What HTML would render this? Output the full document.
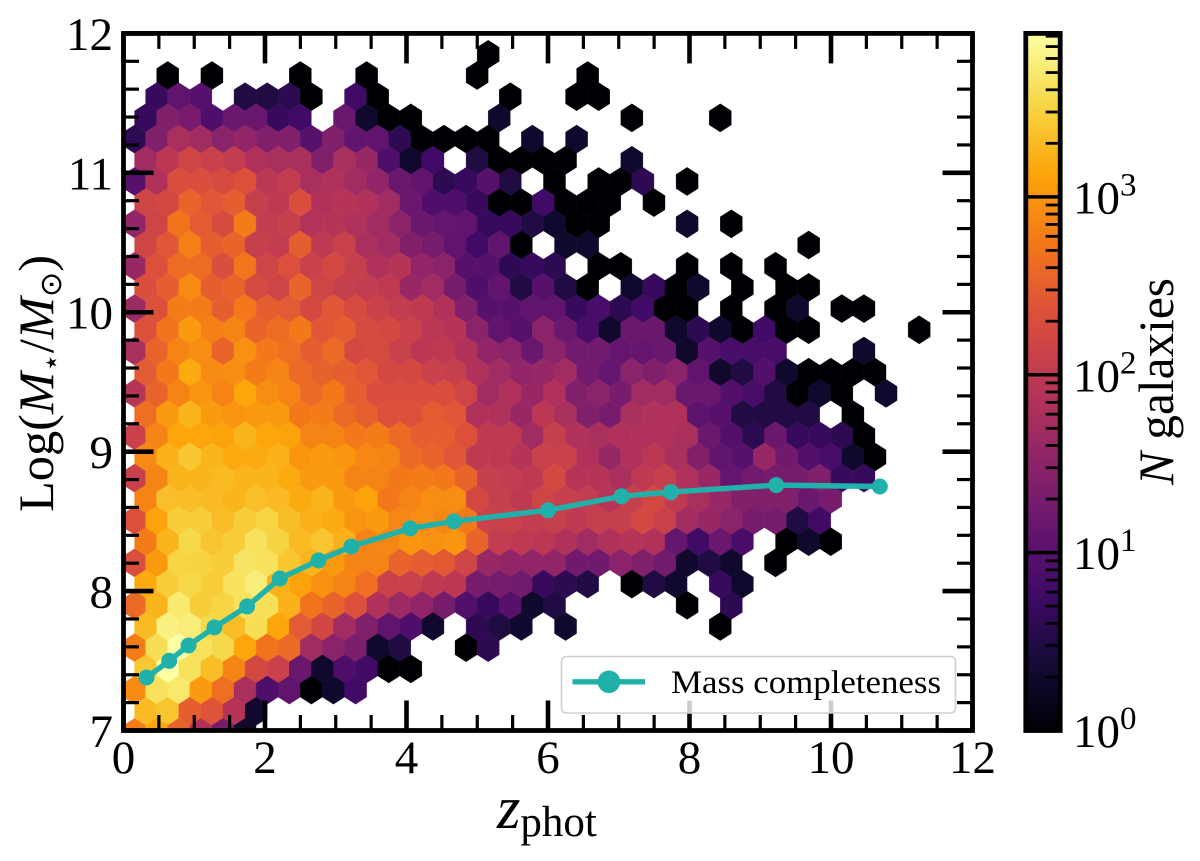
<!DOCTYPE html>
<html lang="en">
<head>
<meta charset="utf-8">
<title>Stellar mass vs photometric redshift hexbin</title>
<style>
html,body{margin:0;padding:0;background:#fff;width:1200px;height:861px;overflow:hidden}
svg{display:block;font-family:"Liberation Serif","DejaVu Serif",serif}
</style>
</head>
<body>
<svg id="chart" xmlns="http://www.w3.org/2000/svg" width="1200" height="861" viewBox="0 0 1200 861">
  <defs>
    <clipPath id="axes-clip"><rect x="123.5" y="33.4" width="849" height="697.1"></rect></clipPath>
    <linearGradient id="colorbar-gradient" x1="0" y1="1" x2="0" y2="0"></linearGradient>
  </defs>
  <rect x="123.5" y="33.4" width="849" height="697.1" fill="#fff"></rect>
  <g id="hexes" clip-path="url(#axes-clip)"></g>
  <g id="completeness"></g>
  <g id="ticks"></g>
  <rect x="123.5" y="33.4" width="849" height="697.1" fill="none" stroke="#000" stroke-width="4.8"></rect>
  <g id="tick-labels" font-size="47" fill="#000"></g>

  <text x="497" y="828" fill="#000"><tspan font-style="italic" font-size="60">z</tspan><tspan font-size="43" dy="8">phot</tspan></text>
  <text transform="translate(53,512) rotate(-90)" x="0" y="0" font-size="50" fill="#000" textLength="257" lengthAdjust="spacingAndGlyphs">Log(<tspan font-style="italic">M</tspan><tspan font-size="30" dy="8" font-family="'DejaVu Sans',sans-serif">⋆</tspan><tspan dy="-8">/</tspan><tspan font-style="italic">M</tspan><tspan font-size="30" dy="8" font-family="'DejaVu Sans',sans-serif">⊙</tspan><tspan dy="-8">)</tspan></text>

  <g>
    <rect x="561.5" y="656.5" width="394" height="56.5" rx="5" ry="5" fill="#fff" fill-opacity="0.8" stroke="#d0d0d0" stroke-width="1.6"></rect>
    <line x1="572.5" y1="681.8" x2="645" y2="681.8" stroke="#20b2aa" stroke-width="5.4"></line>
    <circle cx="609" cy="681.8" r="11.3" fill="#20b2aa"></circle>
    <text x="671" y="693" font-size="33" fill="#000" textLength="270" lengthAdjust="spacingAndGlyphs">Mass completeness</text>
  </g>

  <g>
    <rect x="1025.8" y="33.4" width="34.4" height="697.1" fill="url(#colorbar-gradient)"></rect>
    <g id="cbar-ticks"></g>
    <rect x="1025.8" y="33.4" width="34.4" height="697.1" fill="none" stroke="#000" stroke-width="4.8"></rect>
    <g id="cbar-labels" font-size="47" fill="#000"></g>
    <text transform="translate(1173,485) rotate(-90)" x="0" y="0" font-size="50" fill="#000" textLength="207" lengthAdjust="spacingAndGlyphs"><tspan font-style="italic">N</tspan> galaxies</text>
  </g>
</svg>

<script>
/* Mass-completeness series */
const completenessZ = [0.325, 0.646, 0.919, 1.286, 1.748, 2.21, 2.756, 3.22, 4.05, 4.67, 6.0, 7.04, 7.735, 9.225, 10.69];
const completenessMass = [7.38, 7.50, 7.61, 7.74, 7.89, 8.09, 8.22, 8.32, 8.45, 8.50, 8.58, 8.68, 8.71, 8.76, 8.75];

/* Axis ticks */
const xMajorTicks = [0, 2, 4, 6, 8, 10, 12];
const xTickLabels = ["0", "2", "4", "6", "8", "10", "12"];
const yMajorTicks = [7, 8, 9, 10, 11, 12];
const yTickLabels = ["7", "8", "9", "10", "11", "12"];
const xMinorStep = 0.5;
const yMinorStep = 0.2;
const colorbarDecades = [0, 1, 2, 3];
const colorbarMinorMultipliers = [2, 3, 4, 5, 6, 7, 8, 9];

/* Axis ranges */
const zRange = [0, 12];
const massRange = [7, 12];
const countRange = [1, 8300];

/* Hex bin lattice: first row centre and bin steps (data units) */
const binFirstRowMass = 11.85;
const binRowStepMass = 0.152;
const binColStepZ = 0.3124;

/* Inferno colormap anchors (0..1 every 0.1) */
const infernoStops = ["#000004","#160B39","#420A68","#6A176E","#932667","#BC3754","#DD513A","#F37819","#FCA50A","#F6D746","#FCFFA4"];

/* Galaxy counts per hex: one array per row, top to bottom; index = column; 0 = empty bin */
const hexCounts = [
[0,0,0,0,0,0,0,0,0,0,0,0,0,0,0,0,1],
[0,0,1,0,1,0,0,0,1,0,0,1,0,0,0,0,1,0,0,0,0,1],
[0,5,12,10,0,3,3,4,1,0,6,1,0,0,0,0,0,1,0,0,1,1],
[0,5,25,20,8,15,15,5,6,0,15,2,1,1,0,0,0,2,0,0,0,0,0,1,0,0,0,1],
[4,25,60,50,30,35,25,25,10,25,12,12,4,1,1,1,1,0,2,0,2],
[0,50,90,150,130,110,70,60,60,25,60,40,8,2,6,0,3,1,1,1,1,0,0,2],
[10,70,200,200,180,220,90,110,60,70,50,35,15,12,4,5,10,3,0,1,0,1,1,4,0,1],
[0,150,170,350,250,300,120,100,200,70,80,70,50,15,8,8,5,1,1,6,1,1,1,0,1],
[35,150,500,280,180,600,110,120,75,80,70,50,30,15,13,12,5,5,3,2,1,1,0,0,0,2,0,1],
[0,150,250,650,300,350,120,110,300,100,130,60,50,25,20,12,6,12,1,0,2,2,0,0,0,0,0,0,0,0,0,1],
[40,220,420,420,200,520,150,220,130,170,120,70,80,35,30,10,10,4,5,4,0,1,1,0,0,1,0,1,0,1],
[0,200,300,800,300,350,180,150,350,150,120,110,100,40,50,20,8,12,3,10,3,1,0,2,5,1,2,0,1,0,1,1],
[45,220,600,600,300,550,300,280,170,250,180,130,110,100,70,25,10,10,12,12,5,7,4,6,1,1,0,1,0,1,2,0,1,1],
[0,220,500,1100,650,700,350,420,550,250,300,180,170,130,90,80,30,12,10,30,15,7,2,15,15,2,4,2,1,6,1,1,0,0,0,0,1],
[60,350,700,850,350,900,550,450,300,400,170,180,130,90,100,70,35,30,15,30,18,18,13,13,15,2,10,7,7,7,0,0,0,2],
[0,280,550,1500,800,850,600,700,400,330,300,250,170,170,130,120,70,50,35,40,50,18,13,30,25,30,12,2,3,9,2,1,1,1,1],
[80,350,700,1000,700,1400,850,700,400,550,300,200,200,200,200,150,50,70,40,70,25,30,20,50,50,15,15,9,7,3,1,2,1,0,2],
[0,450,1100,1800,1100,1000,1100,1100,550,600,400,320,220,220,280,250,70,70,40,90,60,25,20,60,70,70,11,10,3,3,3,3,0,1],
[130,700,1400,1400,1300,1800,1400,1300,700,700,550,600,400,300,300,220,100,100,50,120,70,60,70,70,70,60,15,9,4,15,5,5,4,1],
[0,800,1700,2500,1800,1500,1500,1700,1000,1100,1000,750,700,400,350,250,100,100,80,130,130,70,40,70,90,60,25,12,10,40,17,9,7,2,1],
[130,700,1800,1800,2000,1800,1800,1500,1100,1100,700,700,550,600,550,350,120,110,100,170,80,80,60,100,120,70,40,13,18,20,20,25,5,5],
[0,700,2200,2100,2000,1800,2200,2000,1500,1800,1100,1300,550,700,850,850,170,120,100,150,120,110,80,120,170,100,60,40,25,25,25,15,20],
[220,1300,2800,2800,2100,2800,3200,2100,1700,1500,1000,1100,750,850,750,550,130,130,110,120,100,120,120,170,130,50,40,30,20,20,3,6],
[0,600,1800,3500,2400,2800,4200,3100,2000,2400,1700,700,750,1000,900,1000,350,110,100,90,70,50,70,80,70,13,6,15,7,0,1,2,1],
[200,1100,3200,3100,2800,4500,4200,2500,1800,1100,700,700,350,300,270,150,40,35,35,35,17,17,30,25,18,2,3,2,0,1],
[0,1500,2800,3400,2800,4200,5500,1700,1300,900,700,450,130,130,100,90,20,20,18,5,4,3,0,1,3,2,0,5,2],
[400,1800,5000,2800,3200,4200,4000,1700,500,350,220,70,45,35,20,9,5,10,2,3,0,0,0,0,0,1,0,4],
[0,2000,6000,5500,3500,2100,3900,1400,280,160,50,25,12,8,2,0,4,3,2,0,2,0,0,0,0,0,0,1],
[600,3900,8300,4200,3500,1400,500,400,50,30,22,2,3,0,0,1,4],
[0,2500,8300,4200,2100,700,170,130,15,2,8,6,1,1],
[800,4200,4900,1100,450,60,8,12,1,2,6],
[0,2000,2400,300,240,80,2],
[600,1400,350,70,20,2]
];

/* Axis functions */
const plotLeft = 123.5, plotRight = 972.5, plotTop = 33.4, plotBottom = 730.5;
function xScale(z){ return plotLeft + (z - zRange[0]) / (zRange[1] - zRange[0]) * (plotRight - plotLeft); }
function yScale(m){ return plotBottom - (m - massRange[0]) / (massRange[1] - massRange[0]) * (plotBottom - plotTop); }
function colorFraction(n){ return Math.log10(n / countRange[0]) / Math.log10(countRange[1] / countRange[0]); }
function cbarY(n){ return plotBottom - colorFraction(n) * (plotBottom - plotTop); }
function hexToRgb(h){ return [parseInt(h.slice(1,3),16), parseInt(h.slice(3,5),16), parseInt(h.slice(5,7),16)]; }
function inferno(t){
  t = Math.max(0, Math.min(1, t));
  const p = t * (infernoStops.length - 1), i = Math.min(Math.floor(p), infernoStops.length - 2), f = p - i;
  const a = hexToRgb(infernoStops[i]), b = hexToRgb(infernoStops[i + 1]);
  return "rgb(" + Math.round(a[0] + (b[0] - a[0]) * f) + "," + Math.round(a[1] + (b[1] - a[1]) * f) + "," + Math.round(a[2] + (b[2] - a[2]) * f) + ")";
}
const NS = "http://www.w3.org/2000/svg";
function make(tag, attrs, parent){
  const e = document.createElementNS(NS, tag);
  for (const k in attrs) e.setAttribute(k, attrs[k]);
  parent.appendChild(e);
  return e;
}

/* Hexbin cells: rows alternate by half a column */
const hexLayer = document.getElementById("hexes");
const firstRowIsOffset = true;
hexCounts.forEach(function(rowCounts, r){
  const offset = (r % 2 === 0) === firstRowIsOffset ? 0.5 : 0;
  const mass = binFirstRowMass - r * binRowStepMass;
  rowCounts.forEach(function(count, c){
    if (!count) return;
    const cx = xScale((c + offset) * binColStepZ);
    const cy = yScale(mass);
    const halfW = xScale(binColStepZ / 2) - xScale(0);
    const rowH = yScale(0) - yScale(binRowStepMass);
    const pts = [
      [cx, cy - rowH * 2 / 3], [cx + halfW, cy - rowH / 3], [cx + halfW, cy + rowH / 3],
      [cx, cy + rowH * 2 / 3], [cx - halfW, cy + rowH / 3], [cx - halfW, cy - rowH / 3]
    ].map(function(p){ return p[0].toFixed(2) + "," + p[1].toFixed(2); }).join(" ");
    const col = inferno(colorFraction(count));
    const hex = make("polygon", {points: pts, fill: col, stroke: col, "stroke-width": "0.3"}, hexLayer);
    
    
  });
});

/* Completeness line + markers */
const compLayer = document.getElementById("completeness");
const compPath = make("polyline", {
  points: completenessZ.map(function(z, i){ return xScale(z).toFixed(2) + "," + yScale(completenessMass[i]).toFixed(2); }).join(" "),
  fill: "none", stroke: "#20b2aa", "stroke-width": "5.4", "stroke-linejoin": "round"
}, compLayer);


completenessZ.forEach(function(z, i){
  const dot = make("circle", {cx: xScale(z).toFixed(2), cy: yScale(completenessMass[i]).toFixed(2), r: "8", fill: "#20b2aa"}, compLayer);
  
  
});

/* Ticks on all four sides, pointing inward */
const tickLayer = document.getElementById("ticks");
const majorLen = 30, minorLen = 15.5, majorW = 4.6, minorW = 3.2;
function addTick(x1, y1, x2, y2, w, name){
  const t = make("line", {x1: x1, y1: y1, x2: x2, y2: y2, stroke: "#000", "stroke-width": w}, tickLayer);
  
  
}
for (let k = 0; k <= Math.round((zRange[1] - zRange[0]) / xMinorStep); k++){
  const v = zRange[0] + k * xMinorStep;
  const isMajor = xMajorTicks.indexOf(v) >= 0;
  const px = xScale(v);
  const len = isMajor ? majorLen : minorLen;
  const w = isMajor ? majorW : minorW;
  addTick(px, plotBottom, px, plotBottom - len, w, "x-tick-bottom");
  addTick(px, plotTop, px, plotTop + len, w, "x-tick-top");
}
for (let k = 0; k <= Math.round((massRange[1] - massRange[0]) / yMinorStep); k++){
  const v = massRange[0] + k * yMinorStep;
  const isMajor = yMajorTicks.some(function(m){ return Math.abs(m - v) < 1e-6; });
  const py = yScale(v);
  const len = isMajor ? majorLen : minorLen;
  const w = isMajor ? majorW : minorW;
  addTick(plotLeft, py, plotLeft + len, py, w, "y-tick-left");
  addTick(plotRight, py, plotRight - len, py, w, "y-tick-right");
}

/* Tick labels */
const labelLayer = document.getElementById("tick-labels");
xMajorTicks.forEach(function(v, i){
  const t = make("text", {x: xScale(v), y: 773, "text-anchor": "middle"}, labelLayer);
  t.textContent = xTickLabels[i];
  
  
});
yMajorTicks.forEach(function(v, i){
  const t = make("text", {x: 113, y: yScale(v) + 16.5, "text-anchor": "end"}, labelLayer);
  t.textContent = yTickLabels[i];
  
  
});

/* Colorbar */
const grad = document.getElementById("colorbar-gradient");
infernoStops.forEach(function(c, i){
  make("stop", {offset: (i / (infernoStops.length - 1)), "stop-color": c}, grad);
});
const cbarTicks = document.getElementById("cbar-ticks");
const cbarLabels = document.getElementById("cbar-labels");
const cbarLeft = 1025.8, cbarRight = 1060.2;
colorbarDecades.forEach(function(d){
  const major = Math.pow(10, d);
  const py = cbarY(major);
  const mt = make("line", {x1: cbarLeft, y1: py, x2: cbarRight, y2: py, stroke: "#000", "stroke-width": "3.4"}, cbarTicks);
  
  
  colorbarMinorMultipliers.forEach(function(m){
    const n = m * major;
    if (n > countRange[1]) return;
    const y = cbarY(n);
    const mi = make("line", {x1: cbarRight - 14.5, y1: y, x2: cbarRight, y2: y, stroke: "#000", "stroke-width": "2.8"}, cbarTicks);
    
    
  });
  const lab = make("text", {x: 1073, y: py + 16.5}, cbarLabels);
  
  
  make("tspan", {}, lab).textContent = "10";
  make("tspan", {"font-size": "33", dy: "-18"}, lab).textContent = String(d);
});
</script>
</body>
</html>
